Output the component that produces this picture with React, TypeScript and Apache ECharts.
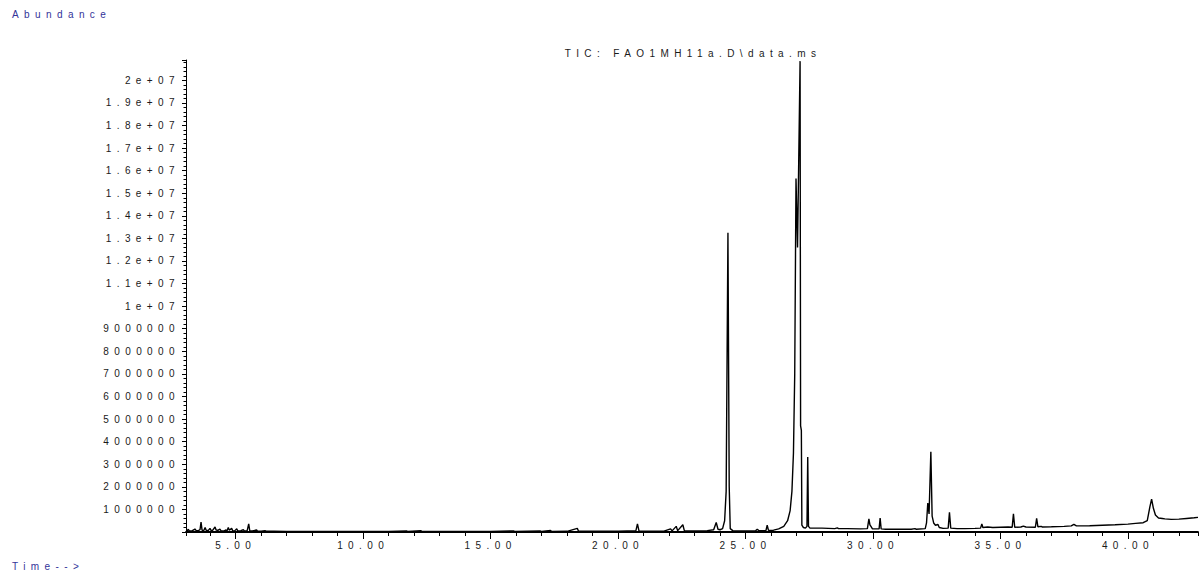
import React, { useEffect, useRef } from 'react';
import * as echarts from 'echarts';

const titleText = 'TIC: FAO1MH11a.D\\data.ms';
const yAxisName = 'Abundance';
const xAxisName = 'Time-->';

const timeMin = 3.05;
const timeMax = 42.75;
const abundanceMax = 20900000;

const retentionTimes = [
  3.05, 3.10, 3.14, 3.18, 3.30, 3.40, 3.45, 3.55, 3.60, 3.64, 3.68, 3.75, 3.80, 3.84, 3.92, 3.99,
  4.03, 4.10, 4.19, 4.23, 4.30, 4.38, 4.42, 4.55, 4.62, 4.66, 4.71, 4.75, 4.84, 4.88, 4.96,
  5.04, 5.08, 5.20, 5.30, 5.34, 5.45, 5.51, 5.55, 5.65, 5.82, 5.86, 6.00, 6.15, 6.20, 6.50,
  7.00, 8.00, 9.00, 10.00, 11.00, 11.70, 11.75, 12.26, 12.30, 13.50, 15.00, 15.90, 15.95,
  16.94, 17.00, 17.35, 17.40, 18.00, 18.40, 18.45, 19.00, 19.60, 20.00, 20.70, 20.76, 20.82,
  21.20, 21.80, 22.06, 22.12, 22.28, 22.34, 22.54, 22.60, 23.00, 23.50, 23.75, 23.85, 23.92,
  24.00, 24.10, 24.18, 24.24, 24.31, 24.36, 24.40, 24.50, 25.00, 25.40, 25.46, 25.52, 25.80,
  25.85, 25.90, 26.10, 26.30, 26.50, 26.65, 26.75, 26.82, 26.88, 26.93, 26.98, 27.04, 27.14,
  27.16, 27.19, 27.21, 27.27, 27.35, 27.41, 27.44, 27.47, 27.52, 27.60, 28.00, 28.50, 28.60,
  28.65, 29.00, 29.50, 29.78, 29.84, 29.88, 29.92, 29.98, 30.24, 30.28, 30.32, 30.50, 31.00,
  31.50, 31.65, 31.70, 32.05, 32.10, 32.15, 32.20, 32.27, 32.32, 32.38, 32.45, 32.55, 32.60,
  32.75, 32.95, 33.00, 33.05, 33.30, 33.60, 34.00, 34.22, 34.27, 34.31, 34.50, 34.70, 35.00,
  35.30, 35.46, 35.51, 35.56, 35.80, 35.90, 36.00, 36.37, 36.42, 36.47, 36.60, 36.65, 37.00,
  37.50, 37.78, 37.88, 37.98, 38.50, 39.00, 39.50, 40.00, 40.30, 40.60, 40.76, 40.86, 40.93,
  41.00, 41.08, 41.20, 41.35, 41.45, 41.70, 42.00, 42.30, 42.60, 42.75,
];

const abundance = [
  50000, 60000, 120000, 50000, 60000, 130000, 60000, 70000, 100000, 440000, 80000, 70000, 200000, 80000, 60000, 160000,
  70000, 80000, 220000, 90000, 70000, 130000, 60000, 50000, 90000, 50000, 200000, 80000, 160000, 60000, 50000,
  140000, 50000, 60000, 100000, 50000, 60000, 360000, 60000, 50000, 90000, 40000, 40000, 60000, 30000, 30000,
  20000, 20000, 20000, 20000, 20000, 50000, 20000, 60000, 20000, 20000, 20000, 50000, 20000,
  50000, 20000, 70000, 20000, 30000, 160000, 30000, 30000, 40000, 30000, 60000, 360000, 50000,
  40000, 40000, 140000, 50000, 250000, 60000, 320000, 60000, 50000, 60000, 100000, 420000, 120000,
  100000, 150000, 500000, 1800000, 13250000, 2000000, 150000, 60000, 50000, 60000, 120000, 60000, 60000,
  300000, 70000, 80000, 140000, 250000, 500000, 950000, 1800000, 3500000, 7000000, 15650000, 12600000, 20850000,
  4700000, 4500000, 300000, 200000, 170000, 250000, 3320000, 250000, 180000, 170000, 170000, 150000, 180000,
  150000, 150000, 140000, 150000, 580000, 320000, 250000, 140000, 140000, 620000, 140000, 120000, 120000,
  120000, 150000, 120000, 150000, 400000, 1280000, 800000, 3550000, 700000, 400000, 300000, 330000, 200000,
  160000, 170000, 870000, 170000, 150000, 150000, 160000, 170000, 360000, 200000, 220000, 200000, 210000,
  220000, 210000, 800000, 210000, 220000, 260000, 220000, 210000, 600000, 230000, 250000, 220000, 230000,
  250000, 270000, 340000, 270000, 280000, 300000, 320000, 350000, 380000, 410000, 500000, 1100000, 1460000,
  1050000, 750000, 620000, 600000, 580000, 560000, 570000, 600000, 630000, 650000,
];

const FONT = '"Liberation Sans", Arial, Helvetica, sans-serif';
const TEXT_COLOR = '#1a1a1a';
const BLUE = '#333399';

export default function App() {
  const ref = useRef<HTMLDivElement | null>(null);

  useEffect(() => {
    document.body.style.margin = '0';
    if (!ref.current) return;
    const chart = echarts.init(ref.current, undefined, { renderer: 'svg' });
    const data = retentionTimes.map((t, i) => [t, abundance[i]]);

    const yLabel = (v: number) => {
      if (v === 0 || v % 1000000 !== 0) return '';
      if (v >= 10000000) return `${+(v / 10000000).toFixed(1)}e+07`;
      return String(v);
    };
    const xLabel = (v: number) => (Math.abs(v % 5) < 1e-9 ? v.toFixed(2) : '');

    chart.setOption({
      animation: false,
      backgroundColor: '#ffffff',
      textStyle: { fontFamily: FONT },
      grid: { left: 186, right: 5, top: 60, bottom: 44, containLabel: false, outerBoundsMode: 'none' },
      xAxis: [
        {
          type: 'value',
          min: timeMin,
          max: timeMax,
          minInterval: 5,
          maxInterval: 5,
          position: 'bottom',
          axisLine: { show: true, onZero: false, lineStyle: { color: '#000', width: 1.8 } },
          axisTick: { show: true, length: 7, lineStyle: { color: '#000', width: 1 } },
          axisLabel: {
            show: true,
            formatter: xLabel,
            showMinLabel: false,
            showMaxLabel: false,
            color: TEXT_COLOR,
            fontSize: 10,
            fontFamily: FONT,
            margin: 8,
          },
          splitLine: { show: false },
        },
        {
          type: 'value',
          min: timeMin,
          max: timeMax,
          minInterval: 1,
          maxInterval: 1,
          position: 'bottom',
          axisLine: { show: false, onZero: false },
          axisTick: { show: true, length: 4, lineStyle: { color: '#000', width: 1 } },
          axisLabel: { show: false },
          splitLine: { show: false },
        },
      ],
      yAxis: {
        type: 'value',
        min: 0,
        max: abundanceMax,
        interval: 1000000,
        axisLine: { show: true, onZero: false, lineStyle: { color: '#000', width: 1 } },
        axisTick: { show: true, length: 4, lineStyle: { color: '#000', width: 1 } },
        minorTick: { show: true, splitNumber: 5, length: 2.5, lineStyle: { color: '#000', width: 1 } },
        axisLabel: {
          show: true,
          formatter: yLabel,
          showMinLabel: false,
          showMaxLabel: false,
          color: TEXT_COLOR,
          fontSize: 10,
          fontFamily: FONT,
          margin: 6,
        },
        splitLine: { show: false },
      },
      graphic: [
        {
          type: 'text',
          x: 12,
          y: 14,
          style: { text: yAxisName, fill: BLUE, font: `10px ${FONT}`, textAlign: 'left', textVerticalAlign: 'middle' },
        },
        {
          type: 'text',
          x: 12,
          y: 566,
          style: { text: xAxisName, fill: BLUE, font: `10px ${FONT}`, textAlign: 'left', textVerticalAlign: 'middle' },
        },
        {
          type: 'text',
          x: 693,
          y: 53,
          style: { text: titleText, fill: TEXT_COLOR, font: `10px ${FONT}`, textAlign: 'center', textVerticalAlign: 'middle' },
        },
      ],
      series: [
        {
          type: 'line',
          xAxisIndex: 0,
          yAxisIndex: 0,
          data,
          showSymbol: false,
          symbol: 'none',
          smooth: false,
          silent: true,
          lineStyle: { color: '#000', width: 1.4 },
        },
      ],
    });

    return () => chart.dispose();
  }, []);

  return <div ref={ref} style={{ width: 1203, height: 576, letterSpacing: '5.4px' }} />;
}
